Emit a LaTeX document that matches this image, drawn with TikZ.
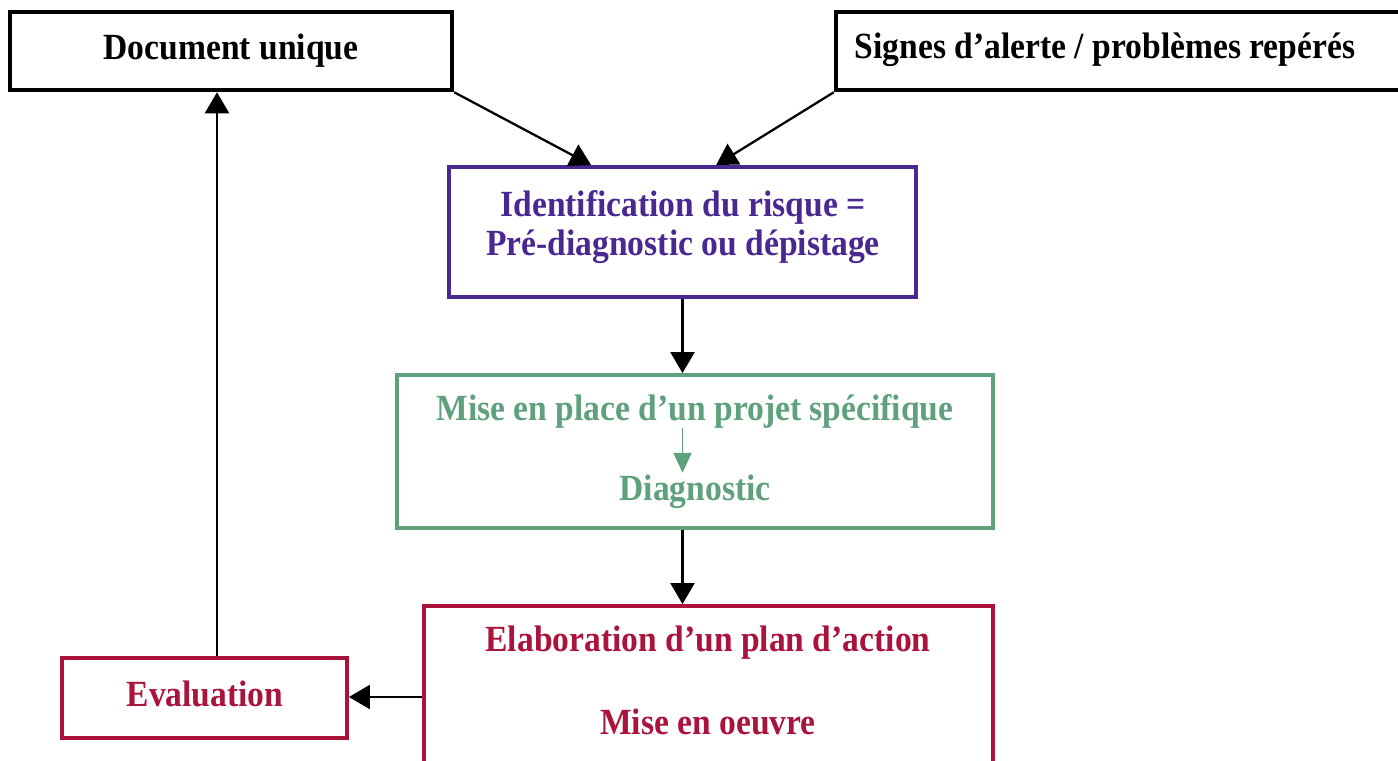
\documentclass[tikz,border=0pt]{standalone}
\usepackage{fontspec}
\setmainfont{Liberation Serif}[FakeStretch=0.91]
\usetikzlibrary{arrows.meta,calc}
\definecolor{identviolet}{RGB}{75,40,145}
\definecolor{diagvert}{RGB}{95,160,125}
\definecolor{planrouge}{RGB}{170,20,60}
\tikzset{
  boite/.style={draw, line width=2.2pt, inner sep=0pt, font=\fontsize{21}{24}\selectfont\bfseries},
  txt/.style={font=\fontsize{21}{22.5}\selectfont\bfseries, align=center, inner sep=0pt},
  fleche/.style={line width=1.3pt, -{Triangle[length=0.42cm,width=0.48cm]}},
}
\begin{document}
\begin{tikzpicture}[x=0.02cm, y=-0.02cm]
            \useasboundingbox (0,0) rectangle (1398,760);
            \clip (0,0) rectangle (1398,760);
            % sources
            \node[boite, line width=2.6pt, minimum width=8.84cm, minimum height=1.56cm] (docu) at (231,51) {Document unique};
            \node[boite, line width=2.6pt, minimum width=11.68cm, minimum height=1.56cm] (signes) at (1128,51) {};
            \node[txt] (signestxt) at (1105,50) {Signes d’alerte / problèmes repérés};
            % identification
            \node[boite, draw=identviolet, minimum width=9.34cm, minimum height=2.6cm] (ident) at (682.5,232) {};
            \node[txt, text=identviolet] (identtxt) at (683,227) {Identification du risque =\\Pré-diagnostic ou dépistage};
            % projet / diagnostic
            \node[boite, draw=diagvert, minimum width=11.92cm, minimum height=3.06cm] (mise) at (695,451.5) {};
            \node[txt, text=diagvert] (misetxt) at (695,411) {Mise en place d’un projet spécifique};
            \node[txt, text=diagvert] (diagtxt) at (695,492) {Diagnostic};
            % plan d'action
            \node[boite, draw=planrouge, minimum width=11.38cm, minimum height=3.48cm] (elab) at (708.5,693) {};
            \node[txt, text=planrouge] (elabtxt) at (708,643) {Elaboration d’un plan d’action};
            \node[txt, text=planrouge] (oeuvretxt) at (708,722) {Mise en oeuvre};
            \node[boite, draw=planrouge, minimum width=5.7cm, minimum height=1.6cm] (eval) at (204.5,698) {};
            \node[txt, text=planrouge] (evaltxt) at (205,694) {Evaluation};
            % Arrows
            \coordinate (evalhaut) at ($(eval.north)+(12.5,0)$);
            \draw[fleche] (docu.south east) -- ($(ident.north west)+(144,0)$);
            \draw[fleche] (signes.south west) -- ($(ident.north west)+(269,0)$);
            \draw[fleche] (ident.south) -- (ident.south |- mise.north);
            \draw[line width=1.1pt, draw=diagvert, fill=diagvert, -{Triangle[length=0.4cm,width=0.36cm]}] (misetxt.south -| ident.south) -- ($(diagtxt.north -| ident.south)+(0,-2)$);
            \draw[fleche] (ident.south |- mise.south) -- (ident.south |- elab.north);
            \draw[fleche] (elab.west |- 0,697) -- (eval.east |- 0,697);
            \draw[fleche] (evalhaut) -- (evalhaut |- docu.south);
        \end{tikzpicture}
\end{document}
